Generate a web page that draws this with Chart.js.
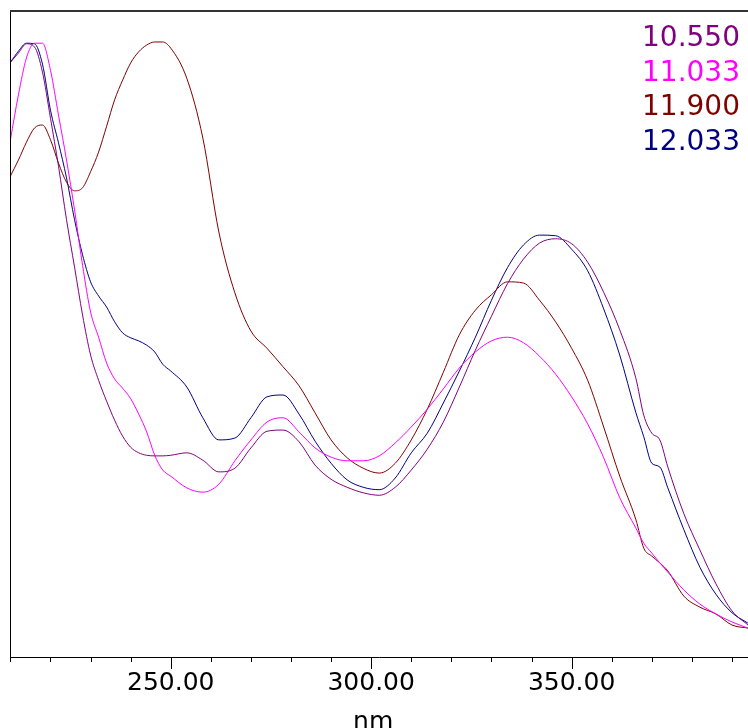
<!DOCTYPE html>
<html>
<head>
<meta charset="utf-8">
<script src="https://cdn.jsdelivr.net/npm/chart.js@4.4.1/dist/chart.umd.min.js"></script>
<style>
  html,body{margin:0;padding:0;background:#fff;}
  #c{display:block;}
</style>
</head>
<body>
<canvas id="c" width="748" height="728"></canvas>
<script>
// Wavelengths (nm)
const wavelengths = [210,212,214,216,218,220,222,224,226,228,230,232,234,236,238,240,242,244,246,248,250,
  254,258,262,266,270,274,278,282,286,290,294,298,302,306,310,314,318,322,326,330,334,338,342,346,350,
  354,358,362,366,368,370,372,374,378,382,386,390,394];

// Series labels (retention times)
const seriesLabels = ['10.550','11.033','11.900','12.033'];
const seriesColors = ['#800080','#ff00ff','#800000','#000080'];

// Normalized absorbance
const s10550 = [0.967,0.982,0.997,0.992,0.951,0.876,0.798,0.711,0.634,0.556,0.491,0.450,0.416,0.385,0.359,0.341,0.332,0.328,0.327,0.327,0.328,
  0.332,0.320,0.301,0.307,0.340,0.367,0.369,0.350,0.312,0.289,0.276,0.267,0.263,0.276,0.304,0.338,0.382,0.439,0.499,0.554,0.607,0.647,0.673,0.680,0.672,
  0.642,0.593,0.532,0.454,0.393,0.364,0.353,0.309,0.233,0.174,0.119,0.075,0.052];
const s11033 = [0.841,0.914,0.974,0.998,0.998,0.954,0.881,0.808,0.727,0.637,0.561,0.520,0.478,0.452,0.437,0.420,0.395,0.366,0.328,0.304,0.294,
  0.275,0.268,0.281,0.319,0.353,0.382,0.389,0.366,0.340,0.325,0.319,0.319,0.327,0.348,0.374,0.403,0.436,0.470,0.496,0.514,0.520,0.511,0.489,0.460,0.423,
  0.379,0.324,0.259,0.210,0.185,0.169,0.153,0.138,0.109,0.086,0.070,0.057,0.047];
const s11900 = [0.782,0.808,0.837,0.860,0.865,0.841,0.803,0.772,0.758,0.763,0.789,0.821,0.863,0.906,0.938,0.966,0.984,0.995,1.000,1.000,0.990,
  0.941,0.844,0.691,0.592,0.530,0.502,0.472,0.441,0.397,0.353,0.324,0.307,0.299,0.315,0.353,0.403,0.463,0.524,0.564,0.589,0.610,0.608,0.580,0.545,0.502,
  0.450,0.374,0.294,0.224,0.177,0.164,0.153,0.140,0.099,0.081,0.070,0.052,0.047];
const s12033 = [0.967,0.985,0.998,0.997,0.964,0.889,0.836,0.779,0.711,0.654,0.610,0.587,0.569,0.545,0.527,0.519,0.514,0.507,0.496,0.476,0.465,
  0.439,0.389,0.353,0.356,0.389,0.423,0.426,0.395,0.351,0.315,0.288,0.276,0.272,0.291,0.332,0.364,0.413,0.465,0.520,0.580,0.633,0.670,0.686,0.685,0.663,
  0.628,0.566,0.491,0.398,0.358,0.315,0.309,0.275,0.207,0.146,0.102,0.072,0.055];
const seriesValues = [s10550, s11033, s11900, s12033];

// Axis ticks
const xTickValues = [250, 300, 350];
const xTickLabels = ['250.00', '300.00', '350.00'];
const xMinorStart = 210, xMinorEnd = 390, xMinorStep = 10;
const xTitle = 'nm';

const datasets = seriesLabels.map((lab, i) => ({
  label: lab,
  data: wavelengths.map((w, k) => ({x: w, y: seriesValues[i][k]})),
  borderColor: seriesColors[i],
  backgroundColor: seriesColors[i],
  borderWidth: 1,
  pointRadius: 0,
  fill: false,
  cubicInterpolationMode: 'monotone'
}));

const framePlugin = {
  id: 'frame',
  afterDraw(chart) {
    const {ctx, chartArea: a, scales: {x}} = chart;
    ctx.save();
    ctx.strokeStyle = '#000';
    ctx.lineWidth = 1;
    for (let v = xMinorStart; v <= xMinorEnd; v += xMinorStep) {
      const px = Math.round(x.getPixelForValue(v)) + 0.5;
      const len = xTickValues.includes(v) ? 12 : 5;
      ctx.beginPath(); ctx.moveTo(px, a.bottom); ctx.lineTo(px, a.bottom + len); ctx.stroke();
    }
    ctx.beginPath(); ctx.moveTo(a.left + 0.5, a.top); ctx.lineTo(a.left + 0.5, a.bottom + 1); ctx.stroke();
    ctx.strokeStyle = '#333';
    ctx.lineWidth = 2;
    ctx.beginPath(); ctx.moveTo(a.left, a.top + 1); ctx.lineTo(a.right, a.top + 1); ctx.stroke();
    // legend
    ctx.font = '28px "DejaVu Sans"';
    ctx.textAlign = 'right';
    ctx.textBaseline = 'middle';
    chart.data.datasets.forEach((d, i) => {
      ctx.fillStyle = d.borderColor;
      ctx.fillText(d.label, 740, 39 + i * 34.5);
    });
    // axis title
    ctx.font = '25px "DejaVu Sans"';
    ctx.fillStyle = '#000';
    ctx.textAlign = 'center';
    ctx.textBaseline = 'alphabetic';
    ctx.fillText(xTitle, x.getPixelForValue(300) + 2, 729);
    ctx.restore();
  }
};

new Chart(document.getElementById('c'), {
  type: 'line',
  data: {datasets},
  options: {
    responsive: false,
    animation: false,
    devicePixelRatio: 1,
    layout: {padding: {left: 10, top: 10, right: 0, bottom: 0}},
    plugins: {legend: {display: false}, tooltip: {enabled: false}},
    scales: {
      x: {
        type: 'linear',
        min: 209.9,
        max: 394,
        grid: {display: true, drawOnChartArea: false, drawTicks: true, tickLength: 11, tickColor: 'rgba(0,0,0,0)'},
        border: {display: true, color: '#000', width: 1},
        ticks: {
          stepSize: 10,
          autoSkip: false,
          maxRotation: 0,
          padding: 0,
          color: '#000',
          font: {family: 'DejaVu Sans', size: 25},
          callback: (v) => {
            const idx = xTickValues.indexOf(Math.round(v));
            return idx >= 0 && Math.abs(v - xTickValues[idx]) < 1e-6 ? xTickLabels[idx] : '';
          }
        },
        afterFit: (s) => { s.height = 71; }
      },
      y: {display: false, min: 0, max: 1.052}
    }
  },
  plugins: [framePlugin]
});
</script>
</body>
</html>
